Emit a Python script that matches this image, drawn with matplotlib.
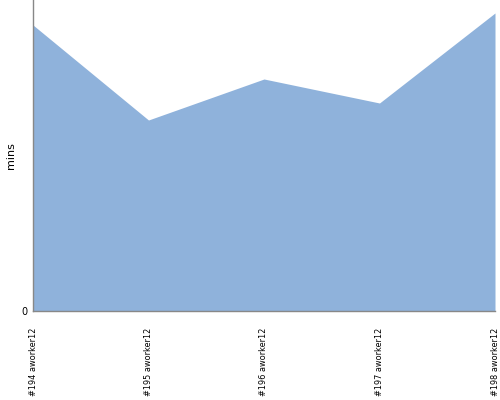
import matplotlib
matplotlib.use("Agg")
import matplotlib.pyplot as plt

builds = ["#194 aworker12", "#195 aworker12", "#196 aworker12", "#197 aworker12", "#198 aworker12"]
mins = [28.6, 19.1, 23.2, 20.8, 29.8]

fig = plt.figure(figsize=(5, 4), dpi=100)
ax = fig.add_axes([0.066, 0.2225, 0.924, 0.7775])

x = list(range(len(builds)))
ax.fill_between(x, mins, 0, color="#8fb2db", linewidth=0)

ax.set_xlim(0, len(builds) - 1)
ax.set_ylim(0, 31.1)
ax.set_yticks([0])
ax.set_yticklabels(["0"], fontsize=7)
ax.set_xticks(x)
ax.set_xticklabels(builds, rotation=90, fontsize=5.9, va="top", ha="center")
ax.tick_params(axis="x", length=0, pad=12)
ax.tick_params(axis="y", length=0, pad=4)
fig.text(0.022, 0.61, "mins", rotation=90, fontsize=8, ha="center", va="center")

for s in ["top", "right"]:
    ax.spines[s].set_visible(False)
ax.spines["left"].set_color("#888888")
ax.spines["bottom"].set_color("#888888")
ax.spines["left"].set_linewidth(1)
ax.spines["bottom"].set_linewidth(1)

fig.savefig("out.png", dpi=100)
